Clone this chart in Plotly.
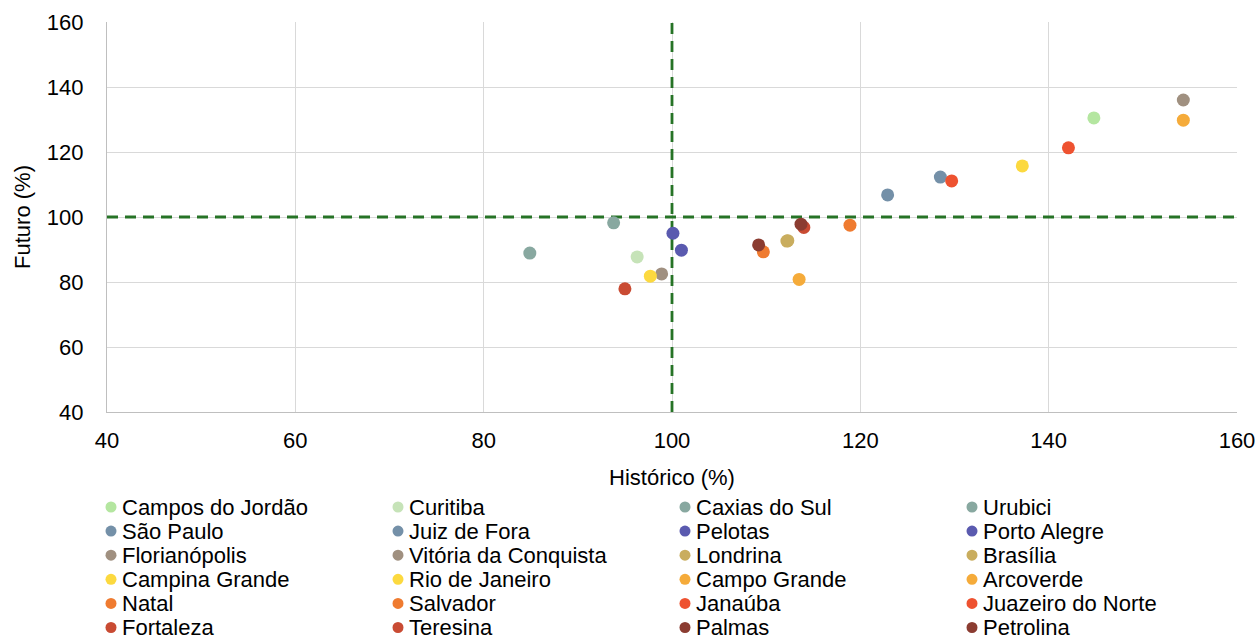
import plotly.graph_objects as go

cities = ["Campos do Jordão", "Curitiba", "Caxias do Sul", "Urubici",
          "São Paulo", "Juiz de Fora", "Pelotas", "Porto Alegre",
          "Florianópolis", "Vitória da Conquista", "Londrina", "Brasília",
          "Campina Grande", "Rio de Janeiro", "Campo Grande", "Arcoverde",
          "Natal", "Salvador", "Janaúba", "Juazeiro do Norte",
          "Fortaleza", "Teresina", "Palmas", "Petrolina"]
historico = [144.8, 96.3, 93.8, 84.9,
             128.5, 122.9, 101.0, 100.1,
             154.3, 98.9, 112.2, 112.3,
             137.2, 97.7, 113.5, 154.3,
             118.9, 109.7, 129.7, 142.1,
             95.0, 114.0, 109.2, 113.7]
futuro = [130.5, 87.7, 98.2, 88.9,
          112.3, 106.8, 89.8, 95.0,
          136.0, 82.5, 92.6, 92.7,
          115.7, 81.8, 80.8, 129.8,
          97.5, 89.3, 111.1, 121.3,
          77.9, 96.8, 91.4, 97.8]
colors = ["#B4E6A0", "#C6E3B8", "#88A8A0", "#88A8A0",
          "#7490A8", "#7490A8", "#5A5AAF", "#5A5AAF",
          "#A09080", "#A09080", "#C9AD5E", "#C9AD5E",
          "#FCD93F", "#FCD93F", "#F5AB3A", "#F5AB3A",
          "#EF7B30", "#EF7B30", "#EE5230", "#EE5230",
          "#C94B33", "#C94B33", "#8B3C31", "#8B3C31"]
ref_x = [100, 100]
ref_y = [40, 160]

W, H = 1259, 639
L, R, T, B = 107, 1237, 22, 412  # plot area in page pixels
FONT = "Liberation Sans, Arial, sans-serif"

def pxx(px):
    return (px - L) / (R - L)

def pxy(py):
    return (B - py) / (B - T)

fig = go.Figure()
line_style = dict(color="#267326", width=2.8, dash="11px,7px")
fig.add_trace(go.Scatter(x=ref_x, y=ref_y, mode="lines", line=line_style,
                         showlegend=False, hoverinfo="skip"))
fig.add_trace(go.Scatter(x=ref_y, y=ref_x, mode="lines", line=line_style,
                         showlegend=False, hoverinfo="skip"))

for name, hx, fy, c in zip(cities, historico, futuro, colors):
    fig.add_trace(go.Scatter(x=[hx], y=[fy], mode="markers", name=name,
                             marker=dict(color=c, size=13, line=dict(width=0)),
                             showlegend=False))

annotations = []
shapes = []
for i, (name, c) in enumerate(zip(cities, colors)):
    col, row = i % 4, i // 4
    cx = 111 + 287 * col
    cy = 507 + 24.1 * row
    r = 5.5
    shapes.append(dict(type="circle", xref="paper", yref="paper",
                       x0=pxx(cx - r), x1=pxx(cx + r),
                       y0=pxy(cy + r), y1=pxy(cy - r),
                       fillcolor=c, line=dict(width=0)))
    annotations.append(dict(text=name, xref="paper", yref="paper",
                            x=pxx(cx + 9), y=pxy(cy), xanchor="left",
                            yanchor="middle", showarrow=False,
                            font=dict(family=FONT, size=22, color="#000000")))

fig.update_layout(
    width=W, height=H,
    margin=dict(l=L, r=W - R, t=T, b=H - B, autoexpand=False),
    paper_bgcolor="white", plot_bgcolor="white",
    font=dict(family=FONT, size=22, color="#000000"),
    showlegend=False,
    shapes=shapes,
    annotations=annotations,
)
fig.update_xaxes(range=[40, 160], dtick=20, showgrid=True, gridcolor="#D9D9D9",
                 gridwidth=1.3, zeroline=False, showline=True, linecolor="#BFBFBF",
                 linewidth=1.3, ticks="", ticklabelstandoff=8, automargin=False,
                 title=dict(text="Histórico (%)", standoff=18,
                            font=dict(family=FONT, size=22)))
fig.update_yaxes(range=[40, 160], dtick=20, showgrid=True, gridcolor="#D9D9D9",
                 gridwidth=1.3, zeroline=False, showline=True, linecolor="#BFBFBF",
                 linewidth=1.3, ticks="", ticklabelstandoff=18, automargin=False,
                 title=dict(text="Futuro (%)", standoff=10,
                            font=dict(family=FONT, size=22)))

fig.write_html("out.html",
               config={"displayModeBar": False},
               post_script="document.body.style.margin='0';"
                           "document.body.style.overflow='hidden';")
